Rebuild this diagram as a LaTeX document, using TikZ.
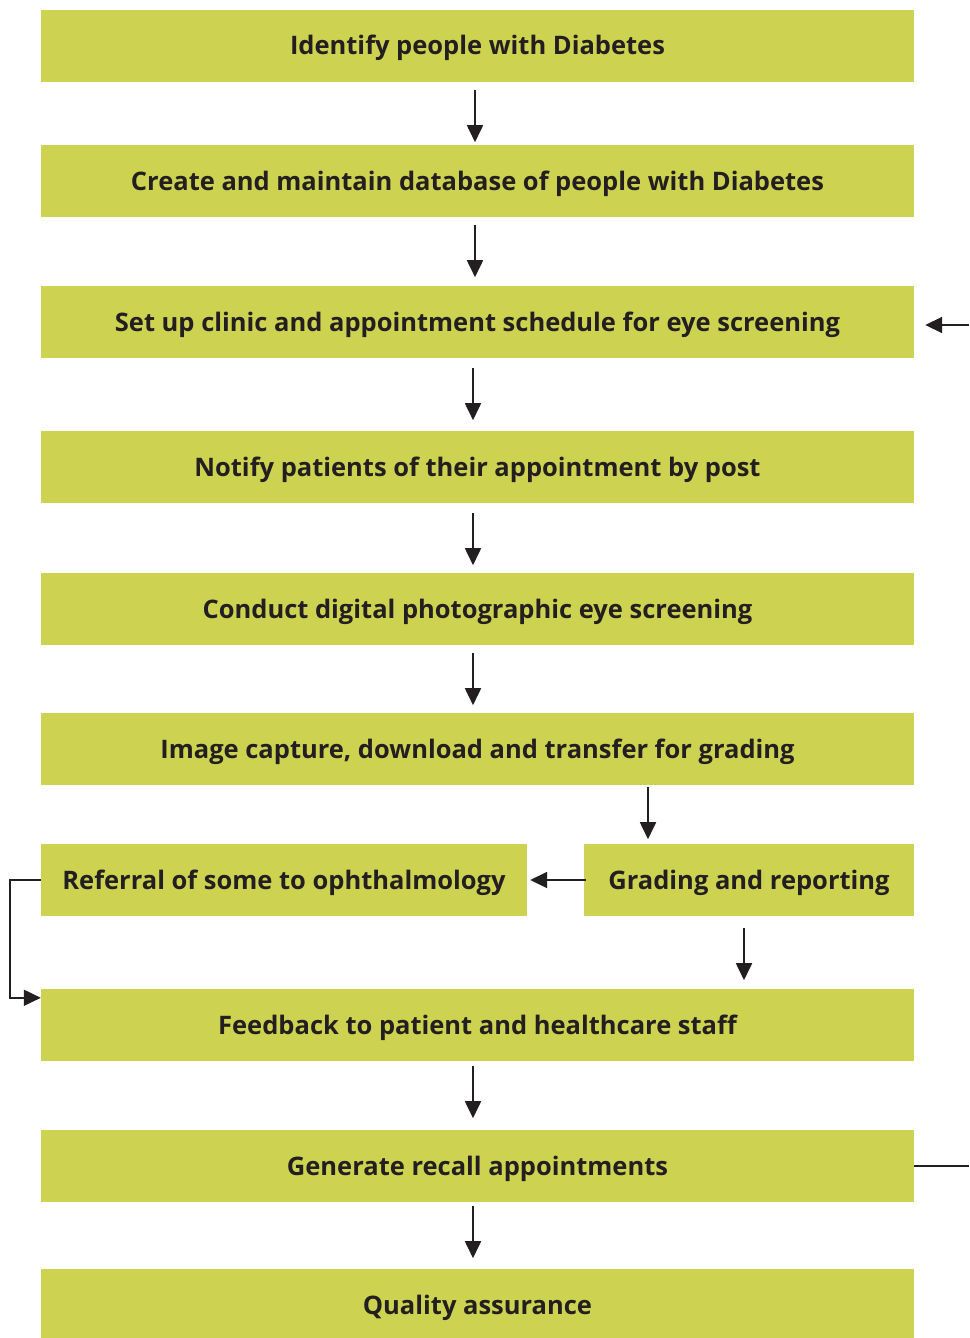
\documentclass[tikz,border=0pt]{standalone}
\usepackage{fontspec}
\setmainfont{Open Sans}
\usetikzlibrary{arrows.meta,calc}
\definecolor{boxgreen}{RGB}{205,211,80}
\definecolor{ink}{RGB}{35,31,32}
\tikzset{
  box/.style={fill=boxgreen, draw=none, inner sep=0pt, minimum height=72pt,
    text height=20pt, text depth=2pt,
    text=ink, font=\fontsize{25.5}{30}\selectfont\bfseries},
  wide/.style={box, minimum width=873pt},
  arr/.style={draw=ink, line width=1.8pt, -{Triangle[length=17pt,width=16pt]}},
  ln/.style={draw=ink, line width=1.8pt},
}
\begin{document}
\begin{tikzpicture}[x=1pt,y=-1pt]
\useasboundingbox (0,0) rectangle (969,1338);
\begin{scope}
\clip (0,0) rectangle (969,1338);
\node[wide] (b1) at (477.5,46) {Identify people with Diabetes};
\node[wide] (b2) at (477.5,181) {Create and maintain database of people with Diabetes};
\node[wide] (b3) at (477.5,322) {Set up clinic and appointment schedule for eye screening};
\node[wide] (b4) at (477.5,467) {Notify patients of their appointment by post};
\node[wide] (b5) at (477.5,609) {Conduct digital photographic eye screening};
\node[wide] (b6) at (477.5,749) {Image capture, download and transfer for grading};
\node[box, minimum width=486pt] (ref) at (284,880) {Referral of some to ophthalmology};
\node[box, minimum width=330pt] (grd) at (749,880) {Grading and reporting};
\node[wide] (fb) at (477.5,1025) {Feedback to patient and healthcare staff};
\node[wide] (rc) at (477.5,1166) {Generate recall appointments};
\node[wide] (qa) at (477.5,1305) {Quality assurance};

\coordinate (rin) at (969,325);
\coordinate (rout) at (969,1166);
\coordinate (lft) at (10,0);

\draw[arr] ($(b1.south)+(-2.5,8)$) -- ++(0,52);
\draw[arr] ($(b2.south)+(-2.5,8)$) -- ++(0,52);
\draw[arr] ($(b3.south)+(-4.5,10)$) -- ++(0,52);
\draw[arr] ($(b4.south)+(-4.5,10)$) -- ++(0,52);
\draw[arr] ($(b5.south)+(-4.5,8)$) -- ++(0,52);
\draw[arr] ($(grd.north |- b6.south)+(-101,2)$) -- ++(0,52);
\draw[arr, shorten <=-2pt, shorten >=3pt] (grd.west) -- (ref.east);
\draw[arr] ($(grd.south)+(-5,12)$) -- ++(0,52);
\draw[arr] (ref.west) -- (lft |- ref.west) -- (lft |- {$(fb.north)+(0,9)$}) -- ($(fb.north west)+(0,9)$);
\draw[arr] ($(fb.south)+(-4.5,5)$) -- ++(0,52);
\draw[arr] ($(rc.south)+(-4.5,4)$) -- ++(0,52);
\draw[arr, shorten >=11pt] (rin) -- (b3.east |- rin);
\draw[ln] (rc.east) -- (rout);
\end{scope}
\end{tikzpicture}
\end{document}
